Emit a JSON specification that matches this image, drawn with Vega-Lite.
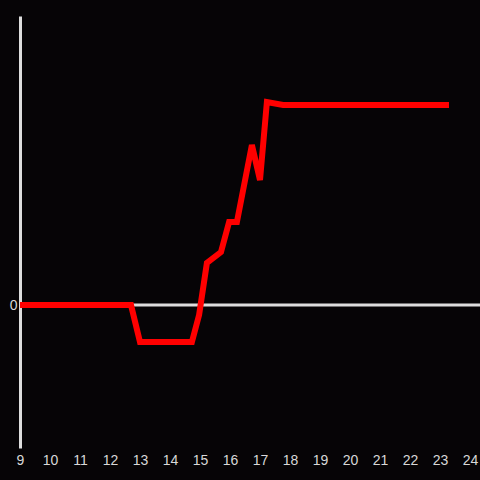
{
  "$schema": "https://vega.github.io/schema/vega-lite/v6.json",
  "width": 460,
  "height": 432,
  "autosize": "none",
  "padding": {"left": 20, "top": 16, "right": 0, "bottom": 32},
  "background": "#060406",
  "config": {"view": {"stroke": null}},
  "data": {"values": [
    {"x": 9.0, "y": 0},
    {"x": 12.7, "y": 0},
    {"x": 13.0, "y": -0.37},
    {"x": 14.73, "y": -0.37},
    {"x": 14.97, "y": -0.10},
    {"x": 15.23, "y": 0.42},
    {"x": 15.7, "y": 0.53},
    {"x": 15.97, "y": 0.83},
    {"x": 16.23, "y": 0.83},
    {"x": 16.73, "y": 1.60},
    {"x": 17.0, "y": 1.25},
    {"x": 17.23, "y": 2.03},
    {"x": 17.77, "y": 2.00},
    {"x": 23.3, "y": 2.00}
  ]},
  "layer": [
    {
      "data": {"values": [{"z": 0}]},
      "mark": {"type": "rule", "color": "#dddddd", "strokeWidth": 3},
      "encoding": {"y": {"field": "z", "type": "quantitative", "scale": {"domain": [-1.43, 2.89], "nice": false, "zero": false},
          "axis": {"values": [0], "format": "d", "domain": true, "domainColor": "#dddddd", "domainWidth": 3, "ticks": false, "grid": false, "title": null, "labelColor": "#d8d8d8", "labelFontSize": 14, "labelFont": "Liberation Sans", "labelPadding": 3}}}
    },
    {
      "mark": {"type": "line", "color": "#ff0000", "strokeWidth": 6, "strokeCap": "butt", "clip": false},
      "encoding": {
        "x": {"field": "x", "type": "quantitative", "scale": {"domain": [9, 24.3333], "nice": false, "zero": false},
          "axis": {"values": [9,10,11,12,13,14,15,16,17,18,19,20,21,22,23,24], "domain": false, "ticks": false, "grid": false, "title": null, "labelColor": "#d8d8d8", "labelFontSize": 14, "labelFont": "Liberation Sans", "labelPadding": 5, "labelFlush": false}},
        "y": {"field": "y", "type": "quantitative"}
      }
    }
  ]
}
